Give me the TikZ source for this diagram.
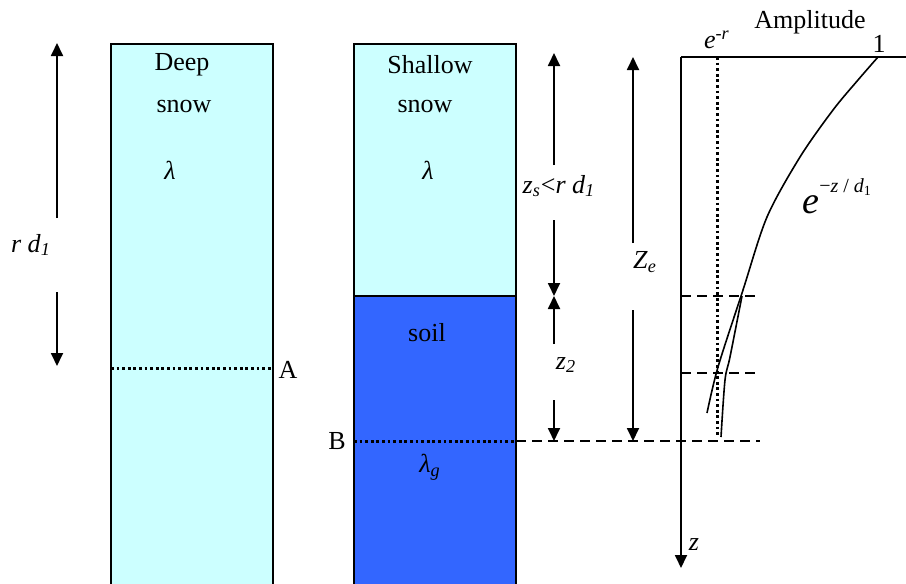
\documentclass[tikz,border=0pt]{standalone}
\usepackage{fontspec}
\setmainfont{Liberation Serif}
\usetikzlibrary{arrows.meta}

\definecolor{snowcyan}{RGB}{204,255,255}
\definecolor{soilblue}{RGB}{51,102,255}

\tikzset{
  dimarrow/.style={-{Triangle[length=6.5pt,width=6pt]}, line width=0.9pt},
  levelline/.style={dash pattern=on 5pt off 3pt, line width=1.4pt},
  dotline/.style={dash pattern=on 1.4pt off 1.4pt, line width=1.5pt},
  lbl/.style={font=\fontsize{13}{15}\selectfont, inner sep=1pt},
}

\begin{document}
\begin{tikzpicture}[x=0.5pt,y=-0.5pt]
    \useasboundingbox (0,0) rectangle (906,584);
    \clip (0,0) rectangle (906,584);

    % ================= DEEP SNOW COLUMN =================
    \draw[fill=snowcyan, line width=0.8pt] (111,44) rectangle (273,600);
    \node[lbl] (deep) at (182,65) {Deep};
    \node[lbl] (deepsnow) at (184,106) {snow};
    \node[lbl] (deeplam) at (170,170) {\textit{λ}};

    % level A
    \coordinate (Aleft) at (111,368);
    \coordinate (Aright) at (273,368);
    \draw[dotline] (Aleft) -- (Aright);
    \node[lbl] (A) at (288,370) {A};

    % r d_1 arrow
    \node[lbl] (rd) at (31,245) {\textit{r d}\textsubscript{\textit{1}}};
    \coordinate (rdtop) at (57,43);
    \coordinate (rdbot) at (57,366);
    \draw[dimarrow] (57,218) -- (rdtop);
    \draw[dimarrow] (57,292) -- (rdbot);

    % ================= SHALLOW SNOW COLUMN =================
    \draw[fill=snowcyan, line width=0.8pt] (354,44) rectangle (516,296);
    \draw[fill=soilblue, line width=0.8pt] (354,296) rectangle (516,600);
    \node[lbl] (shallow) at (430,65) {Shallow};
    \node[lbl] (shalsnow) at (425,106) {snow};
    \node[lbl] (shallam) at (428,170) {\textit{λ}};
    \node[lbl] (soil) at (427,333) {soil};
    \node[lbl] (lamg) at (430,467) {\textit{λ}\textsubscript{\textit{g}}};

    % level B
    \coordinate (Bleft) at (354,441);
    \coordinate (Bright) at (516,441);
    \coordinate (Bend) at (760,441);
    \draw[dotline] (Bleft) -- (Bright);
    \draw[levelline] (Bright) -- (Bend);
    \node[lbl] (B) at (337,441) {B};

    % z_s and z_2 arrows
    \coordinate (zstop) at (554,53);
    \coordinate (zsbot) at (554,296);
    \coordinate (z2bot) at (554,441);
    \node[lbl] (zs) at (559,186) {\textit{z}\textsubscript{\textit{s}}<\textit{r d}\textsubscript{\textit{1}}};
    \node[lbl] (z2) at (566,365) {\textit{z}\textsubscript{\textit{2}}};
    \draw[dimarrow] (554,165) -- (zstop);
    \draw[dimarrow] (554,220) -- (zsbot);
    \draw[dimarrow] (554,344) -- (zsbot);
    \draw[dimarrow] (554,400) -- (z2bot);

    % ================= AMPLITUDE PROFILE =================
    \coordinate (O) at (681,57);
    \coordinate (zend) at (681,568);
    \coordinate (aend) at (906,57);
    \draw[line width=0.9pt] (O) -- (aend);
    \draw[dimarrow] (O) -- (zend);
    \node[lbl] (amp) at (810,22) {Amplitude};
    \node[lbl] (one) at (879,44) {1};
    \node[lbl] (zlab) at (694,545) {\textit{z}};
    \node[lbl] (er) at (717,40) {\textit{e}\textsuperscript{-\textit{r}}};

    % e^{-r} level
    \coordinate (ertop) at (717,57);
    \coordinate (erbot) at (717,437);
    \draw[dotline] (ertop) -- (erbot);

    % interface levels
    \draw[levelline] (681,296) -- (760,296);
    \draw[levelline] (681,373) -- (760,373);

    % Z_e arrow
    \coordinate (zetop) at (633,57);
    \coordinate (zebot) at (633,441);
    \node[lbl] (Ze) at (645,262) {\textit{Z}\textsubscript{\textit{e}}};
    \draw[dimarrow] (633,243) -- (zetop);
    \draw[dimarrow] (633,310) -- (zebot);

    % decay curves
    \draw[line width=0.8pt] plot[smooth] coordinates
      {(878,57) (858,80) (833,110) (800,157) (767,217) (743,290) (718,367) (707,413)};
    \draw[line width=0.8pt] plot[smooth] coordinates
      {(742,296) (730,357) (725,380) (721,437)};
    \node[font=\fontsize{19}{21}\selectfont, inner sep=0pt, anchor=base west] (decay) at (802,213)
      {\textit{e}\raisebox{0.55em}{\fontsize{10}{12}\selectfont −\textit{z} / \textit{d}\textsubscript{1}}};

\end{tikzpicture}
\end{document}
